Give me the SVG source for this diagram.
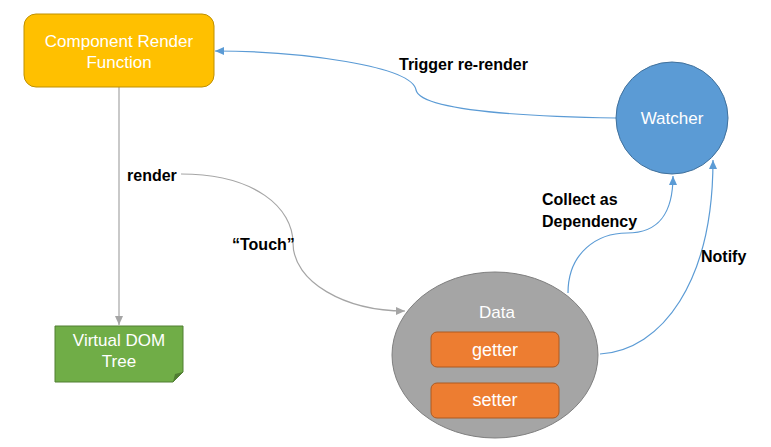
<svg xmlns="http://www.w3.org/2000/svg" width="771" height="447" viewBox="0 0 771 447">
<defs>
<style>
.lbl{font-family:"Liberation Sans",Arial,sans-serif;font-size:16px;font-weight:bold;fill:#000}
.wt{font-family:"Liberation Sans",Arial,sans-serif;font-size:17px;fill:#fff;text-anchor:middle}
.big{font-size:18px}
.gray{fill:none;stroke:#A5A5A5;stroke-width:1.2}
.blue{fill:none;stroke:#5B9BD5;stroke-width:1.2}
</style>
<marker id="ag" markerWidth="10" markerHeight="8" refX="9" refY="4" orient="auto" markerUnits="userSpaceOnUse"><path d="M0,0 L9,4 L0,8 z" fill="#A5A5A5"/></marker>
<marker id="ab" markerWidth="10" markerHeight="8" refX="9" refY="4" orient="auto" markerUnits="userSpaceOnUse"><path d="M0,0 L9,4 L0,8 z" fill="#5B9BD5"/></marker>
</defs>
<rect width="771" height="447" fill="#fff"/>
<g id="connectors">
<path class="gray" d="M119,87 L119,325" marker-end="url(#ag)"/>
<path class="gray" d="M181,174 C255,174 293,208 293,243 C293,282 345,311 405,311" marker-end="url(#ag)"/>
<path class="blue" d="M616,118 C500,116 420,108 416,90 C412,66 300,51 215,51" marker-end="url(#ab)"/>
<path class="blue" d="M568,293 C568,252 598,233 627,233 C660,233 673,212 673,176" marker-end="url(#ab)"/>
<path class="blue" d="M600,354 C662,350 713,282 713,160" marker-end="url(#ab)"/>
</g>
<g id="render-fn">
<rect x="24" y="14" width="190" height="73" rx="12" fill="#FFC000" stroke="#BF9000"/>
<text class="wt" x="119" y="47">Component Render</text>
<text class="wt" x="119" y="68">Function</text>
</g>
<g id="vdom">
<path d="M55,326 H183 V372 L173,382 H55 Z" fill="#70AD47" stroke="#507E32"/>
<path d="M183,372 L173,382 L175,374 Z" fill="#507E32"/>
<text class="wt" x="119" y="346">Virtual DOM</text>
<text class="wt" x="119" y="367">Tree</text>
</g>
<g id="data">
<ellipse cx="495" cy="355" rx="103" ry="83" fill="#A5A5A5" stroke="#7F7F7F"/>
<text class="wt" x="497" y="318">Data</text>
</g>
<g id="getter">
<rect x="431" y="332" width="128" height="35" rx="6" fill="#ED7D31" stroke="#AE5A21"/>
<text class="wt big" x="495" y="356">getter</text>
</g>
<g id="setter">
<rect x="431" y="383" width="128" height="35" rx="6" fill="#ED7D31" stroke="#AE5A21"/>
<text class="wt big" x="495" y="406">setter</text>
</g>
<g id="watcher">
<circle cx="672" cy="118" r="56" fill="#5B9BD5" stroke="#41719C"/>
<text class="wt" x="672" y="124">Watcher</text>
</g>
<g id="labels">
<text class="lbl" x="127" y="181">render</text>
<text class="lbl" x="232" y="250">“Touch”</text>
<text class="lbl" x="399" y="70">Trigger re-render</text>
<text class="lbl" x="542" y="205">Collect as</text>
<text class="lbl" x="542" y="227">Dependency</text>
<text class="lbl" x="701" y="262">Notify</text>
</g>
</svg>
